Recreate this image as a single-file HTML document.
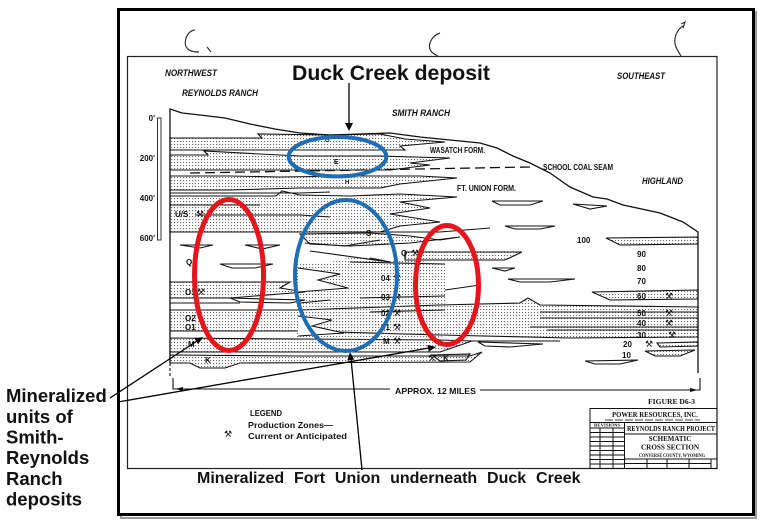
<!DOCTYPE html>
<html><head><meta charset="utf-8"><style>
html,body{margin:0;padding:0;background:#fff;}
svg{display:block;}
.t{font-family:"Liberation Sans",Arial,sans-serif;font-weight:bold;fill:#111;}
.s{font-family:"Liberation Serif",serif;font-weight:bold;fill:#111;}
.pk{font-family:"DejaVu Sans",sans-serif;fill:#111;}
</style></head><body>
<svg width="765" height="524" viewBox="0 0 765 524" xmlns="http://www.w3.org/2000/svg">
<defs>
<pattern id="d" width="3" height="3" patternUnits="userSpaceOnUse"><rect width="1.1" height="1.1" fill="#6a6a6a"/></pattern>
</defs>
<rect width="765" height="524" fill="#fff"/>
<!-- outer frame with shadow -->
<rect x="121" y="12" width="635" height="506" fill="none" stroke="#9a9a9a" stroke-width="2"/>
<rect x="118.5" y="9.5" width="635" height="505" fill="#fff" stroke="#000" stroke-width="3"/>
<!-- inner drawing frame -->
<rect x="127.5" y="56.5" width="589.5" height="412" fill="none" stroke="#222" stroke-width="1.2"/>
<!-- hooks -->
<g fill="none" stroke="#333" stroke-width="1.2">
<path d="M195,30 C186,31 183,44 187,48 C189,51 194,52 199,52"/>
<path d="M207,47 L211,52"/>
<path d="M440,33 C431,36 427,46 431,51 C433,54 436,55 438,56"/>
<path d="M683,26 C676,30 673,40 676,47 C678,52 680,54 681,56"/>
<path d="M681,24 L685,22 L683,28"/>
</g>
<!-- top labels -->
<text class="t" x="165" y="76" font-size="9" font-style="italic" textLength="52" lengthAdjust="spacingAndGlyphs">NORTHWEST</text>
<text class="t" x="182" y="96" font-size="9" font-style="italic" textLength="76" lengthAdjust="spacingAndGlyphs">REYNOLDS RANCH</text>
<text class="t" x="392" y="116" font-size="9" font-style="italic" textLength="58" lengthAdjust="spacingAndGlyphs">SMITH RANCH</text>
<text class="t" x="617" y="79" font-size="9" font-style="italic" textLength="48" lengthAdjust="spacingAndGlyphs">SOUTHEAST</text>
<text class="t" x="642" y="184" font-size="9" font-style="italic" textLength="41" lengthAdjust="spacingAndGlyphs">HIGHLAND</text>
<text class="t" x="430" y="153" font-size="8" textLength="55" lengthAdjust="spacingAndGlyphs">WASATCH FORM.</text>
<text class="t" x="543" y="170" font-size="8" textLength="70" lengthAdjust="spacingAndGlyphs">SCHOOL COAL SEAM</text>
<text class="t" x="457" y="191" font-size="8" textLength="59" lengthAdjust="spacingAndGlyphs">FT. UNION FORM.</text>
<!-- scale bar -->
<rect x="157.5" y="118" width="3.5" height="122" fill="#fff" stroke="#333" stroke-width="1"/>
<g class="t" font-size="8" text-anchor="end">
<text x="155" y="121">0'</text>
<text x="155" y="161">200'</text>
<text x="155" y="201">400'</text>
<text x="155" y="241">600'</text>
</g>
<!-- dotted sand bands -->
<g fill="url(#d)" stroke="#111" stroke-width="1.1" stroke-linejoin="miter">
<path d="M170,138 L262,138 L258,134 L330,135 L380,134 L405,139 L445,142 L400,146 L405,150 L170,150 Z"/>
<path d="M170,155 L208,155 L204,151 L260,154 L300,156 L380,156 L450,158 L410,163 L430,165 L390,170 L170,170 Z"/>
<path d="M170,176 L230,176 L280,177 L350,176 L420,176 L457,178 L400,184 L380,188 L300,188 L230,190 L170,190 Z"/>
<path d="M170,196 L276,196 L282,191 L300,195 L350,196 L400,194 L457,197 L400,202 L430,208 L390,214 L440,222 L400,226 L380,232 L170,232 Z"/>
<path d="M300,234 L370,233 L410,236 L440,240 L460,237 L410,243 L350,246 L310,244 Z"/>
<path d="M170,282 L290,282 L280,288 L305,292 L230,298 L170,298 Z"/>
<path d="M170,310 L300,310 L440,305 L520,303 L528,298 L540,305 L698,307 L698,337 L570,338 L440,335 L300,331 L170,331 Z"/>
<path d="M170,338 L300,339 L440,340 L472,341 L440,352 L170,352 Z"/>
<path d="M170,355 L300,356 L470,356 L482,352 L470,362 L240,363 L225,368 L200,368 L190,363 L170,363 Z"/>
<path d="M606,238 L698,237 L698,244 L620,245 Z"/>
<path d="M405,252 L522,252 L505,260 L405,260 Z"/>
<path d="M592,292 L698,290 L698,299 L610,300 Z"/>
<path d="M657,343 L698,342 L698,346 L660,347 Z"/>
<path d="M645,351 L695,350 L680,356 L655,356 Z"/>
<path d="M432,355 L470,354 L466,360 L440,361 Z"/>
</g>
<!-- middle dotted mass (no outline) -->
<path d="M296,262 L330,262 L352,257 L420,261 L445,264 L445,300 L440,353 L300,353 L296,330 Z" fill="url(#d)"/>
<!-- white zigzags inside middle mass -->
<g fill="#fff" stroke="#111" stroke-width="1">
<path d="M298,268 L340,274 L318,280 L348,288 L298,292"/>
<path d="M298,316 L332,320 L312,326 L344,333 L298,336"/>
</g>
<!-- open lenses -->
<g fill="none" stroke="#111" stroke-width="1.1">
<path d="M492,201 L543,201 L530,205 L500,205 Z"/>
<path d="M573,204 L607,206 L590,209 Z"/>
<path d="M505,226 L555,226 L540,229 L515,229 Z"/>
<path d="M492,268 L515,268 L505,271 Z"/>
<path d="M508,279 L575,279 L550,282 L520,282 Z"/>
<path d="M478,342 L543,344 L510,347 L485,346 Z"/>
<path d="M585,361 L638,360 L620,364 L595,364 Z"/>
<path d="M180,245 L213,245 L200,248 Z"/>
<path d="M245,245 L280,245 L262,249 Z"/>
<path d="M220,264 L273,264 L255,268 L232,268 Z"/>
<path d="M230,298 L305,300 L290,303 L240,302 Z"/>
</g>
<!-- additional strata lines -->
<g fill="none" stroke="#111" stroke-width="1.1">
<path d="M170,193 L300,193 L330,192"/>
<path d="M170,205 L260,205"/>
<path d="M195,215 L300,215 L330,217"/>
<path d="M170,232 L440,232"/>
<path d="M305,243 L345,246 L380,240"/>
<path d="M310,251 L390,262 L370,258"/>
<path d="M440,232 L490,228"/>
<path d="M170,303 L240,303"/>
<path d="M300,303 L330,300"/>
<path d="M350,262 L445,264"/>
<path d="M360,298 L445,296"/>
<path d="M370,312 L445,310"/>
<path d="M445,290 L480,285"/>
<path d="M540,312 L698,312"/>
<path d="M540,318 L698,318"/>
<path d="M530,327 L698,327"/>
<path d="M547,330 L698,330"/>
<path d="M470,341 L560,341"/>
</g>
<!-- coal seam dashed -->
<path d="M190,173 L530,167" fill="none" stroke="#111" stroke-width="1.3" stroke-dasharray="10,5"/>
<!-- topography and section boundaries -->
<path d="M170,363 L170,109 L182,113 L200,115 L225,118 L250,124 L275,129 L300,133 L330,135 L360,134 L390,133 L420,137 L450,140 L480,143 L497,148 L513,156 L530,163 L550,173 L570,187 L593,197 L607,199 L623,205 L660,213 L683,222 L698,232 L698,373" fill="none" stroke="#111" stroke-width="1.3"/>
<path d="M170,363 L170,378" fill="none" stroke="#111" stroke-width="1.1" stroke-dasharray="3,2"/>
<!-- distance bracket -->
<g fill="none" stroke="#111" stroke-width="1.1">
<path d="M173,378 L173,389 L390,389"/>
<path d="M480,390 L700,390 L700,378"/>
</g>
<path d="M175,389 L183,387 L183,391 Z" fill="#111"/>
<path d="M698,390 L690,388 L690,392 Z" fill="#111"/>
<text class="t" x="395" y="394" font-size="8.5" textLength="81" lengthAdjust="spacingAndGlyphs">APPROX. 12 MILES</text>
<!-- section labels -->
<g class="t" font-size="8">
<text x="175" y="217">U/S</text>
<text x="186" y="265">Q</text>
<text x="185" y="295">O3</text>
<text x="185" y="321">O2</text>
<text x="185" y="330">O1</text>
<text x="188" y="347">M</text>
<text x="205" y="363">K</text>
<text x="325" y="142" font-size="6">G</text>
<text x="334" y="164" font-size="7">E</text>
<text x="345" y="184" font-size="6">H</text>
<text x="366" y="236">S</text>
<text x="401" y="256">Q</text>
<text x="381" y="281">04</text>
<text x="381" y="300">03</text>
<text x="381" y="316">02</text>
<text x="381" y="330">01</text>
<text x="383" y="344">M</text>
<text x="443" y="361">K</text>
<text x="577" y="243">100</text>
<text x="637" y="257">90</text>
<text x="637" y="271">80</text>
<text x="637" y="284">70</text>
<text x="637" y="299">60</text>
<text x="637" y="316">50</text>
<text x="637" y="326">40</text>
<text x="637" y="338">30</text>
<text x="623" y="347">20</text>
<text x="622" y="358">10</text>
</g>
<g class="pk" font-size="9">
<text x="196" y="217">⚒</text>
<text x="197" y="295">⚒</text>
<text x="411" y="256">⚒</text>
<text x="393" y="281">⚒</text>
<text x="393" y="300">⚒</text>
<text x="393" y="316">⚒</text>
<text x="393" y="330">⚒</text>
<text x="393" y="344">⚒</text>
<text x="428" y="361">⚒</text>
<text x="665" y="299">⚒</text>
<text x="665" y="316">⚒</text>
<text x="665" y="326">⚒</text>
<text x="668" y="338">⚒</text>
<text x="645" y="347">⚒</text>
</g>
<!-- legend -->
<text class="t" x="250" y="416" font-size="8.5" textLength="32" lengthAdjust="spacingAndGlyphs">LEGEND</text>
<text class="pk" x="224" y="437" font-size="9">⚒</text>
<text class="t" x="248" y="428" font-size="8.5" font-weight="normal" textLength="85" lengthAdjust="spacingAndGlyphs">Production Zones—</text>
<text class="t" x="248" y="439" font-size="8.5" font-weight="normal" textLength="99" lengthAdjust="spacingAndGlyphs">Current or Anticipated</text>
<!-- title block -->
<text class="s" x="648" y="404" font-size="7.5" textLength="47" lengthAdjust="spacingAndGlyphs">FIGURE D6-3</text>
<g fill="none" stroke="#111" stroke-width="1">
<rect x="590" y="408.5" width="127" height="60"/>
<path d="M590,422.5 L717,422.5"/>
<path d="M624.5,422.5 L624.5,468.5"/>
<path d="M624.5,434 L717,434"/>
<path d="M624.5,459 L717,459"/>
<path d="M590,428 L624.5,428"/>
<path d="M590,432.5 L624.5,432.5"/>
<path d="M590,437 L624.5,437"/>
<path d="M590,441.5 L624.5,441.5"/>
<path d="M590,446 L624.5,446"/>
<path d="M590,450.5 L624.5,450.5"/>
<path d="M590,455 L624.5,455"/>
<path d="M590,459.5 L624.5,459.5"/>
<path d="M590,464 L624.5,464"/>
<path d="M600,428 L600,468.5"/>
<path d="M613,428 L613,468.5"/>
<path d="M647,459 L647,468.5"/>
<path d="M667,459 L667,468.5"/>
<path d="M689,459 L689,468.5"/>
<path d="M711,459 L711,468.5"/>
<path d="M624.5,463.5 L711,463.5"/>
</g>
<text class="s" x="612" y="417" font-size="7.5" textLength="86" lengthAdjust="spacingAndGlyphs">POWER RESOURCES, INC.</text>
<path d="M605,420 L700,420" stroke="#444" stroke-width="1" stroke-dasharray="8,2"/>
<text class="s" x="594" y="426.5" font-size="4.5" textLength="26" lengthAdjust="spacingAndGlyphs">REVISIONS</text>
<text class="s" x="627" y="431" font-size="7.5" textLength="88" lengthAdjust="spacingAndGlyphs">REYNOLDS RANCH PROJECT</text>
<text class="s" x="670" y="441" font-size="7" text-anchor="middle">SCHEMATIC</text>
<text class="s" x="670" y="449.5" font-size="7" text-anchor="middle" textLength="58" lengthAdjust="spacingAndGlyphs">CROSS SECTION</text>
<text class="s" x="639" y="457" font-size="5" textLength="66" lengthAdjust="spacingAndGlyphs">CONVERSE COUNTY, WYOMING</text>
<!-- annotation ellipses -->
<ellipse cx="337.5" cy="156.7" rx="48.8" ry="19.7" fill="none" stroke="#1f6db5" stroke-width="4"/>
<ellipse cx="346" cy="275.5" rx="51" ry="75.5" fill="none" stroke="#1f6db5" stroke-width="4"/>
<ellipse cx="229" cy="275" rx="34.5" ry="75.5" fill="none" stroke="#e8141c" stroke-width="5"/>
<ellipse cx="447" cy="285" rx="31.5" ry="59.5" fill="none" stroke="#e8141c" stroke-width="5"/>
<!-- annotation arrows -->
<g stroke="#000" stroke-width="1.3" fill="none">
<path d="M349,83 L349,124"/>
<path d="M362,470 L351,359"/>
<path d="M110,398 L197,341"/>
<path d="M118,402 L429,348"/>
</g>
<g fill="#000">
<path d="M345,123 L353,123 L349,131 Z"/>
<path d="M350,352 L354.3,359.6 L347.3,360.4 Z"/>
<path d="M203,337 L198.2,344.3 L194.4,338.5 Z"/>
<path d="M436,347 L428.7,351.8 L427.5,344.9 Z"/>
</g>
<!-- annotation texts -->
<text class="t" x="292" y="80" font-size="21" fill="#000" textLength="198" lengthAdjust="spacingAndGlyphs">Duck Creek deposit</text>
<text class="t" x="197" y="483" font-size="16" fill="#000" word-spacing="5.4">Mineralized Fort Union underneath Duck Creek</text>
<g class="t" font-size="18.5" fill="#000">
<text x="6" y="402">Mineralized</text>
<text x="6" y="423">units of</text>
<text x="6" y="443.5">Smith-</text>
<text x="6" y="464">Reynolds</text>
<text x="6" y="485">Ranch</text>
<text x="6" y="505.5">deposits</text>
</g>
</svg>
</body></html>
